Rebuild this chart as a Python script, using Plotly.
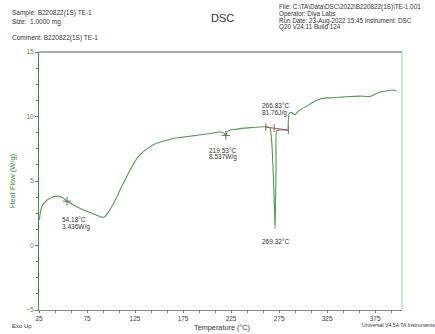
import plotly.graph_objects as go

# ---- data ----
temperature_c = [25.5, 26.5, 28, 31, 35, 40, 45, 50, 54.18, 62, 70, 78, 85, 90, 93, 96, 100, 105,
                 110, 116, 122, 128, 135, 145, 155, 165, 175, 185, 195, 205, 213, 217, 219.53, 221,
                 224, 230, 238, 248, 258, 263, 265.6, 267.7, 269.8, 270.8, 271.1, 271.9, 272.6,
                 276, 280, 284, 284.6, 285.7, 288, 291.7, 295, 300, 303.8, 309, 317.7, 324.7, 330,
                 340, 350, 360, 369.8, 374, 376.8, 382, 388, 393, 397]
heat_flow_wg = [2.0, 2.6, 3.0, 3.35, 3.6, 3.78, 3.82, 3.7, 3.436, 3.1, 2.8, 2.55, 2.35, 2.2, 2.2,
                2.45, 2.9, 3.6, 4.4, 5.3, 6.15, 6.85, 7.35, 7.85, 8.1, 8.3, 8.4, 8.5, 8.6, 8.7, 8.8,
                8.75, 8.537, 8.8, 8.95, 9.0, 9.1, 9.15, 9.2, 9.2, 9.1, 7.6, 3.75, 1.3, 2.46, 6.3,
                8.9, 8.95, 8.95, 8.95, 9.6, 10.28, 10.3, 10.15, 10.4, 10.65, 10.8, 11.05, 11.35,
                11.44, 11.45, 11.5, 11.55, 11.58, 11.56, 11.7, 11.8, 11.92, 12.0, 12.05, 12.0]

marker_t = [54.18, 219.53]
marker_hf = [3.436, 8.537]

bracket_t = [261.1, 284.7]
bracket_hf = [9.18, 8.95]
bracket_tick_t = [261.1, 269.8, 284.7]

x_ticks = [25, 75, 125, 175, 225, 275, 325, 375]
y_ticks = [15, 10, 5, 0, -5]

header_left = ["Sample: B220822(1S) TE-1", "Size:  1.0000 mg", "Comment: B220822(1S) TE-1"]
header_right = ["File: C:\\TA\\Data\\DSC\\2022\\B220822(1S)\\TE-1.001", "Operator: Diya Labs",
                "Run Date: 23-Aug-2022 15:45 Instrument: DSC", "Q20 V24.11 Build 124"]

GREEN = "#4f9e4f"
AXGREEN = "#3f8f3f"
TXT = "#333333"
FONT = "Liberation Sans"

W, H = 435, 334
L, R, T, B = 39, 402, 52, 312


def px(x):
    return (x - L) / (R - L)


def py(y):
    return (B - y) / (B - T)


fig = go.Figure()

fig.add_trace(go.Scatter(x=temperature_c, y=heat_flow_wg, mode="lines", line_shape="spline",
                         line=dict(color=GREEN, width=1.1, smoothing=0.6), hoverinfo="skip"))
fig.add_trace(go.Scatter(x=marker_t, y=marker_hf, mode="markers",
                         marker=dict(symbol="cross-thin", size=6, line=dict(color="#666666", width=1)),
                         hoverinfo="skip"))
# integration bracket
fig.add_trace(go.Scatter(x=bracket_t, y=bracket_hf, mode="lines",
                         line=dict(color="#b0524a", width=1), hoverinfo="skip"))
for bt in bracket_tick_t:
    frac = (bt - bracket_t[0]) / (bracket_t[1] - bracket_t[0])
    yb = bracket_hf[0] + frac * (bracket_hf[1] - bracket_hf[0])
    fig.add_trace(go.Scatter(x=[bt, bt], y=[yb - 0.3, yb + 0.3], mode="lines",
                             line=dict(color="#b0524a", width=1), hoverinfo="skip"))

annotations = []


def txt(x, y, s, size=6.5, xanchor="left", color=TXT, xref="paper", yref="paper", **kw):
    annotations.append(dict(x=x, y=y, xref=xref, yref=yref, text=s, showarrow=False,
                            xanchor=xanchor, yanchor="middle",
                            font=dict(family=FONT, size=size, color=color), **kw))


# header
for i, s in enumerate(header_left):
    txt(px(10), py([13, 22, 38][i]), s)
for i, s in enumerate(header_right):
    txt(px(277), py(7 + 6.7 * i), s, size=6.3)
txt(px(222), py(18), "DSC", size=11, xanchor="center")

# data labels
txt(px(60), py(221), "54.18°C")
txt(px(60), py(228), "3.436W/g")
txt(px(207), py(151.5), "219.53°C")
txt(px(207), py(158), "8.537W/g")
txt(px(260), py(105.5), "266.83°C")
txt(px(260), py(113), "81.76J/g")
txt(px(275), py(243), "269.32°C", xanchor="center")

# footer
txt(px(10), py(328), "Exo Up", size=6)
txt(px(222), py(329.5), "Temperature (°C)", size=7.3, xanchor="center")
txt(px(360), py(327), "Universal V4.5A TA Instruments", size=5.2)
txt(px(12), 0.5, "Heat Flow (W/g)", size=7.5, xanchor="center", color=AXGREEN, textangle=-90)

fig.update_layout(
    width=W, height=H,
    margin=dict(l=L, r=W - R, t=T, b=H - B, pad=0),
    paper_bgcolor="white", plot_bgcolor="white",
    showlegend=False,
    annotations=annotations,
    font=dict(family=FONT),
    xaxis=dict(range=[25, 403], tickvals=x_ticks, ticks="outside", ticklen=2, tickcolor="#777777",
               showgrid=False, zeroline=False, showline=True, linecolor="#8a8a8a", linewidth=1,
               tickfont=dict(family=FONT, size=6.5, color="#444444"),
               minor=dict(dtick=50 / 3, tick0=25, ticks="outside", ticklen=2, tickcolor="#777777")),
    yaxis=dict(range=[-5, 15], tickvals=y_ticks, ticks="outside", ticklen=3, tickcolor=AXGREEN,
               showgrid=False, zeroline=False, showline=True, linecolor=AXGREEN, linewidth=1,
               tickfont=dict(family=FONT, size=6.5, color=AXGREEN),
               minor=dict(dtick=1.25, tick0=-5, ticks="outside", ticklen=2, tickcolor=AXGREEN)),
    shapes=[
        dict(type="line", xref="paper", yref="paper", x0=0, x1=1, y0=1, y1=1,
             line=dict(color="#555555", width=1.2)),
        dict(type="line", xref="paper", yref="paper", x0=1, x1=1, y0=0, y1=1,
             line=dict(color="#9fd29f", width=1)),
    ],
)

fig.write_html("out.html")
